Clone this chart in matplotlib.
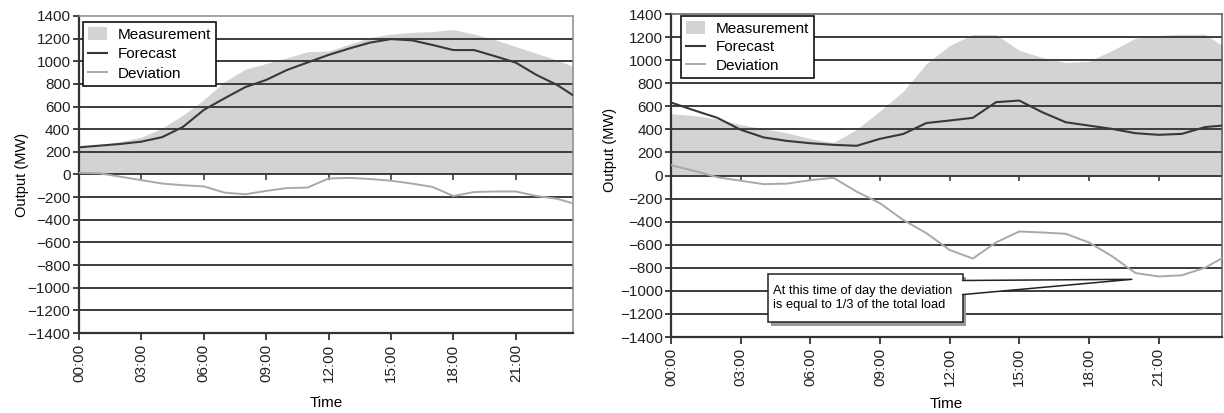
import matplotlib
matplotlib.use("Agg")
import matplotlib.pyplot as plt
from matplotlib.patches import Rectangle, Polygon, Patch
from matplotlib.lines import Line2D

# hourly readings, last point is 23:45
hours = [0, 1, 2, 3, 4, 5, 6, 7, 8, 9, 10, 11, 12, 13, 14, 15, 16, 17, 18, 19, 20, 21, 22, 23, 23.75]

left_measurement = [240, 260, 290, 330, 410, 525, 660, 820, 930, 980, 1030, 1085, 1090,
                    1150, 1210, 1240, 1255, 1262, 1280, 1240, 1190, 1130, 1070, 1010, 955]
left_forecast = [240, 255, 270, 290, 330, 420, 570, 673, 772, 835, 923, 990, 1056,
                 1113, 1165, 1196, 1185, 1144, 1099, 1099, 1045, 988, 879, 790, 700]
left_deviation = [15, 10, -20, -50, -80, -95, -105, -160, -175, -145, -120, -115, -35,
                  -30, -40, -55, -80, -110, -190, -155, -150, -150, -190, -215, -255]

right_measurement = [535, 520, 490, 442, 405, 370, 320, 286, 400, 560, 730, 970, 1127,
                     1222, 1222, 1085, 1023, 980, 990, 1084, 1190, 1214, 1225, 1225, 1127]
right_forecast = [633, 565, 500, 397, 330, 300, 280, 266, 258, 318, 360, 455, 477,
                  500, 636, 650, 548, 462, 433, 404, 367, 353, 361, 420, 433]
right_deviation = [90, 40, -15, -45, -75, -70, -40, -20, -140, -240, -385, -500, -645,
                   -720, -580, -485, -494, -505, -580, -700, -845, -875, -865, -800, -715]

tick_hours = [0, 3, 6, 9, 12, 15, 18, 21]
tick_labels = ["00:00", "03:00", "06:00", "09:00", "12:00", "15:00", "18:00", "21:00"]
y_ticks = list(range(-1400, 1401, 200))

series_labels = ["Measurement", "Forecast", "Deviation"]
note_text = "At this time of day the deviation\nis equal to 1/3 of the total load"

FILL = "#d3d3d5"
FORECAST = "#383838"
DEVIATION = "#a9a9a9"
GRID = "#3c3c3c"

NARROW = ["Liberation Sans Narrow", "Liberation Sans", "DejaVu Sans"]
NORMAL = ["Liberation Sans", "DejaVu Sans"]


def draw_panel(ax, measurement, forecast, deviation, family, frame_color):
    ax.fill_between(hours, 0, measurement, color=FILL, lw=0, zorder=1)
    ax.plot(hours, forecast, color=FORECAST, lw=1.5, zorder=3)
    ax.plot(hours, deviation, color=DEVIATION, lw=1.4, zorder=3)

    ax.set_xlim(0, 23.75)
    ax.set_ylim(-1400, 1400)
    ax.set_yticks(y_ticks)
    ax.set_xticks(tick_hours)
    ax.set_xticklabels(tick_labels, rotation=90)

    for v in y_ticks[1:-1]:
        ax.axhline(v, color=GRID, lw=1.4, zorder=2)
    # small ticks hanging from the zero line
    ax.vlines(tick_hours[1:], -45, 0, color=GRID, lw=1.2, zorder=2)

    ax.tick_params(axis="both", direction="out", length=4, width=1.2,
                   colors="#222222", labelsize=11, pad=2)
    ax.tick_params(axis="x", length=5, pad=3)
    for lab in ax.get_xticklabels() + ax.get_yticklabels():
        lab.set_family(family)

    ax.spines["left"].set_color("#333333")
    ax.spines["left"].set_linewidth(1.6)
    ax.spines["bottom"].set_color("#333333")
    ax.spines["bottom"].set_linewidth(1.6)
    for side in ("top", "right"):
        ax.spines[side].set_color(frame_color)
        ax.spines[side].set_linewidth(1.1)

    ax.set_ylabel("Output (MW)", family=family, fontsize=10.5)
    ax.set_xlabel("Time", family=family, fontsize=11)

    handles = [Patch(facecolor=FILL, edgecolor="none"),
               Line2D([], [], color=FORECAST, lw=1.5),
               Line2D([], [], color=DEVIATION, lw=1.4)]
    return handles


fig = plt.figure(figsize=(12.24, 4.13), dpi=100)
ax1 = fig.add_axes([0.0645, 0.1937, 0.4036, 0.7676])
ax2 = fig.add_axes([0.5482, 0.184, 0.4505, 0.782])

h1 = draw_panel(ax1, left_measurement, left_forecast, left_deviation, NARROW, "#8c8c8c")
h2 = draw_panel(ax2, right_measurement, right_forecast, right_deviation, NORMAL, "#5a5a5a")

ax1.yaxis.set_label_coords(-0.101, 0.5)
ax1.xaxis.set_label_coords(0.5, -0.2)
ax2.yaxis.set_label_coords(-0.098, 0.58)
ax2.xaxis.set_label_coords(0.5, -0.185)

for ax, handles, family, anchor, spacing in ((ax1, h1, NARROW, (0.008, 0.981), 0.32),
                                             (ax2, h2, NORMAL, (0.018, 0.994), 0.25)):
    leg = ax.legend(handles, series_labels, loc="upper left", bbox_to_anchor=anchor,
                    borderaxespad=0, fancybox=False, framealpha=1, handlelength=1.2,
                    handleheight=0.9, handletextpad=0.7, labelspacing=spacing,
                    borderpad=0.35, prop={"family": family, "size": 11})
    leg.get_frame().set_edgecolor("#111111")
    leg.get_frame().set_linewidth(1.2)
    leg.set_zorder(6)

# callout box on the right panel
box_x0, box_x1 = 4.18, 12.57
box_y0, box_y1 = -1274, -850
tip = (19.85, -900)
gap_top, gap_bottom = -910, -1032

ax2.add_patch(Rectangle((box_x0 + 0.13, box_y0 - 28), box_x1 - box_x0, box_y1 - box_y0,
                        facecolor="#9a9a9a", edgecolor="none", zorder=6))
ax2.add_patch(Rectangle((box_x0, box_y0), box_x1 - box_x0, box_y1 - box_y0,
                        facecolor="white", edgecolor="#222222", lw=1.1, zorder=7))
ax2.add_patch(Polygon([(box_x1 - 0.08, gap_top), tip, (box_x1 - 0.08, gap_bottom)],
                      closed=True, facecolor="white", edgecolor="none", zorder=8))
ax2.plot([box_x1, tip[0], box_x1], [gap_top, tip[1], gap_bottom],
         color="#222222", lw=1.1, zorder=9)
ax2.text(box_x0 + 0.2, (box_y0 + box_y1) / 2, note_text, fontsize=9.3,
         family=NORMAL, va="center", ha="left", linespacing=1.2, zorder=10)

fig.savefig("out.png", dpi=100)
